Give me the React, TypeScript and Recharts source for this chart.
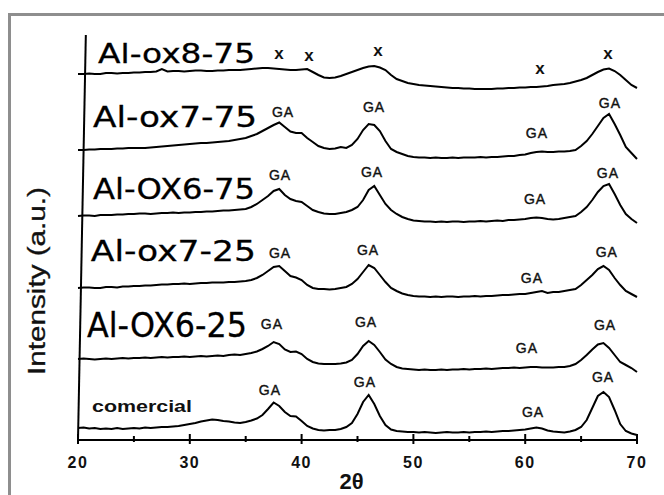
import { LineChart, Line, XAxis, YAxis, ReferenceDot, ReferenceLine } from "recharts";

// 2θ grid (deg)
const twoTheta = [
  20, 20.5, 21, 21.5, 22, 22.5, 23, 23.5, 24, 24.5,
  25, 25.5, 26, 26.5, 27, 27.5, 28, 28.5, 29, 29.5,
  30, 30.5, 31, 31.5, 32, 32.5, 33, 33.5, 34, 34.5,
  35, 35.5, 36, 36.5, 37, 37.5, 38, 38.5, 39, 39.5,
  40, 40.5, 41, 41.5, 42, 42.5, 43, 43.5, 44, 44.5,
  45, 45.5, 46, 46.5, 47, 47.5, 48, 48.5, 49, 49.5,
  50, 50.5, 51, 51.5, 52, 52.5, 53, 53.5, 54, 54.5,
  55, 55.5, 56, 56.5, 57, 57.5, 58, 58.5, 59, 59.5,
  60, 60.5, 61, 61.5, 62, 62.5, 63, 63.5, 64, 64.5,
  65, 65.5, 66, 66.5, 67, 67.5, 68, 68.5, 69, 69.5,
  70,
];

// stacked intensities (a.u.), top trace first
const ox8_75 = [
  366, 366, 366.5, 366, 366, 367, 367, 366.5, 367, 367,
  367.5, 367.5, 368, 368, 368.5, 371, 368.5, 369, 369, 368.5,
  369, 369.5, 369.5, 369, 369, 369.5, 369.5, 370, 370, 370,
  370.5, 371, 371.5, 372, 372, 371.5, 371, 370.5, 370, 370,
  370.5, 371, 368, 365, 362.5, 362, 362.5, 364, 366, 368,
  370, 372, 373.5, 374, 372.5, 370, 365, 361, 359, 357,
  356, 355, 354.5, 354, 353.5, 353, 352.5, 352, 352, 351.5,
  351.5, 351, 351, 351, 351, 351.5, 351.5, 352, 352, 352.5,
  352.5, 353, 353, 353.5, 354, 355, 355.5, 356, 357, 358.5,
  360, 362, 365, 368, 370.5, 371.5, 369, 365, 360, 355,
  352,
];
const ox7_75 = [
  290, 290, 290.5, 290.5, 291, 291, 291, 291.5, 291.5, 292,
  292, 292, 292, 292.5, 293, 293.5, 294, 294.5, 295, 295.5,
  296, 296.5, 297, 297, 297.5, 298, 298.5, 299, 300, 301,
  302, 304, 306, 309, 312, 315, 317.5, 313, 308.5, 307,
  307, 302, 298, 294, 292, 291, 291.5, 293, 292, 295,
  301, 310, 316, 315, 309, 299, 291, 288, 286, 284,
  283, 282.5, 282.5, 282, 282.5, 282, 282, 282.5, 282, 282.5,
  282.5, 282.5, 283, 282.5, 283, 283, 283.5, 284, 284, 285,
  285.5, 287, 288, 288.5, 288, 288, 288.5, 288.5, 289, 290,
  294, 299, 306, 314, 322, 326, 316, 305, 293, 287,
  281,
];
const ox6_75 = [
  224, 224.5, 224.5, 224, 225, 225, 225, 225.5, 225.5, 226,
  226, 226.5, 226.5, 226, 226.5, 227, 227, 227.5, 227, 227.5,
  227.5, 228, 228, 228.5, 228.5, 229, 229.5, 229.5, 230, 230.5,
  231, 233, 236, 240, 244, 249, 251, 245, 241, 239,
  238, 234, 230, 228, 226.5, 226, 226, 227, 228, 230,
  233, 240, 250, 254, 245, 236, 230, 226, 223, 221,
  219.5, 219, 218.5, 218.5, 218, 218.5, 218, 218.5, 218.5, 218,
  218.5, 218.5, 219, 218.5, 219, 219.5, 219, 220, 220, 220.5,
  221, 222, 222.5, 222, 221, 220.5, 221, 222, 223, 224,
  228, 233, 240, 248, 254, 256, 246, 235, 226, 221,
  217,
];
const ox7_25 = [
  152, 152.5, 152.5, 152, 152, 153, 153, 152.5, 153.5, 153.5,
  154, 154, 154.5, 154.5, 155, 155.5, 155.5, 156, 156, 156.5,
  156, 156.5, 157, 157, 157.5, 157.5, 157.5, 158, 158, 158.5,
  159, 160, 162, 165, 169, 173, 174, 169, 164, 162.5,
  160, 155, 152, 151, 151, 150.5, 151, 152, 153, 156,
  161, 168, 175, 172, 165, 158, 152, 149, 146.5, 145,
  144, 143.5, 143.5, 143, 143.5, 143, 143.5, 143.5, 143, 143.5,
  143.5, 144, 143.5, 144, 144, 144.5, 145, 145, 145.5, 146,
  146, 147, 148, 149, 147, 148, 148, 149, 150, 151,
  155, 160, 165, 171, 174, 170, 162, 155, 149, 146,
  143,
];
const ox6_25 = [
  81, 81.5, 81, 80.5, 81, 81.5, 81, 81.5, 82, 81.5,
  82, 82, 82.5, 82, 82.5, 83, 82.5, 83, 83, 83.5,
  83, 83.5, 84, 83.5, 84, 84.5, 84, 85, 85.5, 85,
  86, 87, 88.5, 91, 94, 98, 96, 90.5, 88, 88.5,
  86, 81, 78, 76.5, 76, 76, 76, 76.5, 77.5, 80,
  86, 94, 99, 95, 88, 80.5, 76, 73, 71.5, 71,
  70.5, 70, 70.5, 70, 70, 70.5, 70, 70.5, 70.5, 71,
  70.5, 71, 71, 71.5, 71, 71.5, 72, 72, 72.5, 72,
  72.5, 73, 73, 72.5, 72.5, 72.5, 73, 73, 74, 76,
  80, 85, 90.5, 95.5, 97, 92, 85, 78, 75, 72,
  68,
];
const comercial = [
  12, 12.5, 11.5, 12, 11, 11.5, 11, 12, 11, 11.5,
  12, 11.5, 12.5, 12, 12.5, 13, 13, 13.5, 14, 15,
  16, 17, 18.5, 19.5, 20.5, 20, 19, 18.5, 17.5, 17,
  18, 19.5, 21.5, 25, 31, 37.5, 34, 28, 24, 23.5,
  19, 14, 11.5, 10, 9.5, 10, 10, 11, 13, 17,
  26, 38, 45, 36, 24, 15, 10.5, 9, 8.5, 8,
  8, 7.5, 8, 7.5, 7, 7.5, 8, 7.5, 7.5, 8,
  7.5, 8, 8, 8.5, 8, 8.5, 9, 9, 9.5, 10,
  10.5, 11.5, 12.5, 11.5, 9.5, 8.5, 8, 7.5, 8.5, 10,
  13, 20, 32, 44, 48, 43, 30, 16, 9, 6.5,
  5,
];

const seriesKeys = ["ox8_75", "ox7_75", "ox6_75", "ox7_25", "ox6_25", "comercial"];
const seriesValues = [ox8_75, ox7_75, ox6_75, ox7_25, ox6_25, comercial];

const xTicks = [20, 25, 30, 35, 40, 45, 50, 55, 60, 65, 70];

// sample names, anchored at (2θ, intensity)
const sampleNames = ["Al-ox8-75", "Al-ox7-75", "Al-OX6-75", "Al-ox7-25", "Al-OX6-25", "comercial"];
const sampleAnchors = [
  { x: 21.8, y: 387, w: 157, fs: 27 },
  { x: 21.35, y: 323, w: 164, fs: 28 },
  { x: 21.35, y: 251, w: 162, fs: 28 },
  { x: 21.15, y: 189, w: 165, fs: 29 },
  { x: 20.8, y: 115, w: 160, fs: 33 },
];

// phase markers
const peakMarks = [
  { t: "x", x: 37.98, y: 387 },
  { t: "x", x: 40.66, y: 385 },
  { t: "x", x: 46.83, y: 390 },
  { t: "x", x: 61.32, y: 372 },
  { t: "x", x: 67.4, y: 387 },
  { t: "GA", x: 38.34, y: 328 },
  { t: "GA", x: 46.48, y: 333 },
  { t: "GA", x: 61.05, y: 307 },
  { t: "GA", x: 67.58, y: 337 },
  { t: "GA", x: 38.07, y: 265 },
  { t: "GA", x: 46.3, y: 268 },
  { t: "GA", x: 60.88, y: 241 },
  { t: "GA", x: 67.4, y: 267 },
  { t: "GA", x: 38.07, y: 187 },
  { t: "GA", x: 45.94, y: 190 },
  { t: "GA", x: 60.6, y: 162 },
  { t: "GA", x: 67.3, y: 188 },
  { t: "GA", x: 37.35, y: 116 },
  { t: "GA", x: 45.76, y: 118 },
  { t: "GA", x: 60.16, y: 92 },
  { t: "GA", x: 67.14, y: 115 },
  { t: "GA", x: 37.17, y: 50 },
  { t: "GA", x: 45.67, y: 58 },
  { t: "GA", x: 60.7, y: 28 },
  { t: "GA", x: 66.96, y: 63 },
];

const rows = twoTheta.map((t, i) => {
  const r: any = { t };
  seriesKeys.forEach((k, j) => (r[k] = seriesValues[j][i]));
  return r;
});

const sans = "'Liberation Sans', Arial, sans-serif";

const XTick = ({ x, y, payload }: any) => {
  const major = payload.value % 10 === 0;
  return (
    <g>
      <line x1={x} x2={x} y1={y - (major ? 6 : 4)} y2={y + (major ? 4 : 2)} stroke="#000" strokeWidth={2} />
      {major && (
        <text x={x} y={y + 22} textAnchor="middle" dominantBaseline="central" fontFamily={sans} fontWeight="bold" fontSize={16} letterSpacing={1.5} fill="#111">
          {payload.value}
        </text>
      )}
    </g>
  );
};

const YLabel = () => (
  <text x={37} y={281} transform="rotate(-90 37 281)" textAnchor="middle" dominantBaseline="central" fontFamily={sans} fontSize={23} textLength={188} lengthAdjust="spacingAndGlyphs" fill="#111" stroke="#111" strokeWidth={0.3}>
    Intensity (a.u.)
  </text>
);

const XLabel = ({ viewBox }: any) => (
  <text x={viewBox.x + viewBox.width / 2 - 6} y={viewBox.y + 41} textAnchor="middle" dominantBaseline="central" fontFamily={sans} fontWeight="bold" fontSize={22} fill="#111">
    2θ
  </text>
);

export default function App() {
  return (
    <div style={{ position: "absolute", left: 0, top: 0, width: 664, height: 495, overflow: "hidden", background: "#fff" }}>
      <div style={{ position: "absolute", left: 8, top: 13, width: 700, height: 600, borderTop: "3px solid #8e8e8e", borderLeft: "3px solid #8e8e8e" }} />
      <div style={{ position: "absolute", left: 0, top: 0 }}>
        <LineChart width={664} height={495} data={rows} margin={{ top: 30, right: 27, bottom: 30, left: 0 }}>
          <XAxis
            dataKey="t"
            type="number"
            domain={[20, 70]}
            ticks={xTicks}
            height={25}
            tickSize={0}
            tickMargin={0}
            tickLine={false}
            axisLine={{ stroke: "#000", strokeWidth: 2 }}
            tick={<XTick />}
            label={<XLabel />}
          />
          <YAxis width={78} domain={[0, 410]} axisLine={false} tickLine={false} tick={false} label={<YLabel />} />
          <ReferenceLine segment={[{ x: 20, y: 0 }, { x: 20.7, y: 405 }]} stroke="#000" strokeWidth={2} ifOverflow="visible" />
          {seriesKeys.map((k) => (
            <Line key={k} dataKey={k} type="linear" stroke="#000" strokeWidth={2} dot={false} isAnimationActive={false} />
          ))}
          {sampleAnchors.map((a, i) => (
            <ReferenceDot
              key={sampleNames[i]}
              x={a.x}
              y={a.y}
              r={0}
              ifOverflow="visible"
              shape={(p: any) => (
                <text x={p.cx} y={p.cy} dominantBaseline="central" fontFamily="'DejaVu Sans', sans-serif" fontSize={a.fs} textLength={a.w} lengthAdjust="spacingAndGlyphs" fill="#000" stroke="#000" strokeWidth={0.3}>
                  {sampleNames[i]}
                </text>
              )}
            />
          ))}
          <ReferenceDot
            x={21.25}
            y={34}
            r={0}
            ifOverflow="visible"
            shape={(p: any) => (
              <text x={p.cx} y={p.cy} dominantBaseline="central" fontFamily={sans} fontWeight="bold" fontSize={16} textLength={100} lengthAdjust="spacingAndGlyphs" fill="#111">
                {sampleNames[5]}
              </text>
            )}
          />
          {peakMarks.map((m, i) => (
            <ReferenceDot
              key={i}
              x={m.x}
              y={m.y}
              r={0}
              ifOverflow="visible"
              shape={(p: any) => (
                <text x={p.cx} y={p.cy} textAnchor="middle" dominantBaseline="central" fontFamily={sans} fontWeight={m.t === "x" ? "bold" : "normal"} fontSize={m.t === "x" ? 17 : 14} letterSpacing={m.t === "x" ? 0 : 1} fill="#111" stroke="#111" strokeWidth={m.t === "x" ? 0 : 0.4}>
                  {m.t}
                </text>
              )}
            />
          ))}
        </LineChart>
      </div>
    </div>
  );
}
